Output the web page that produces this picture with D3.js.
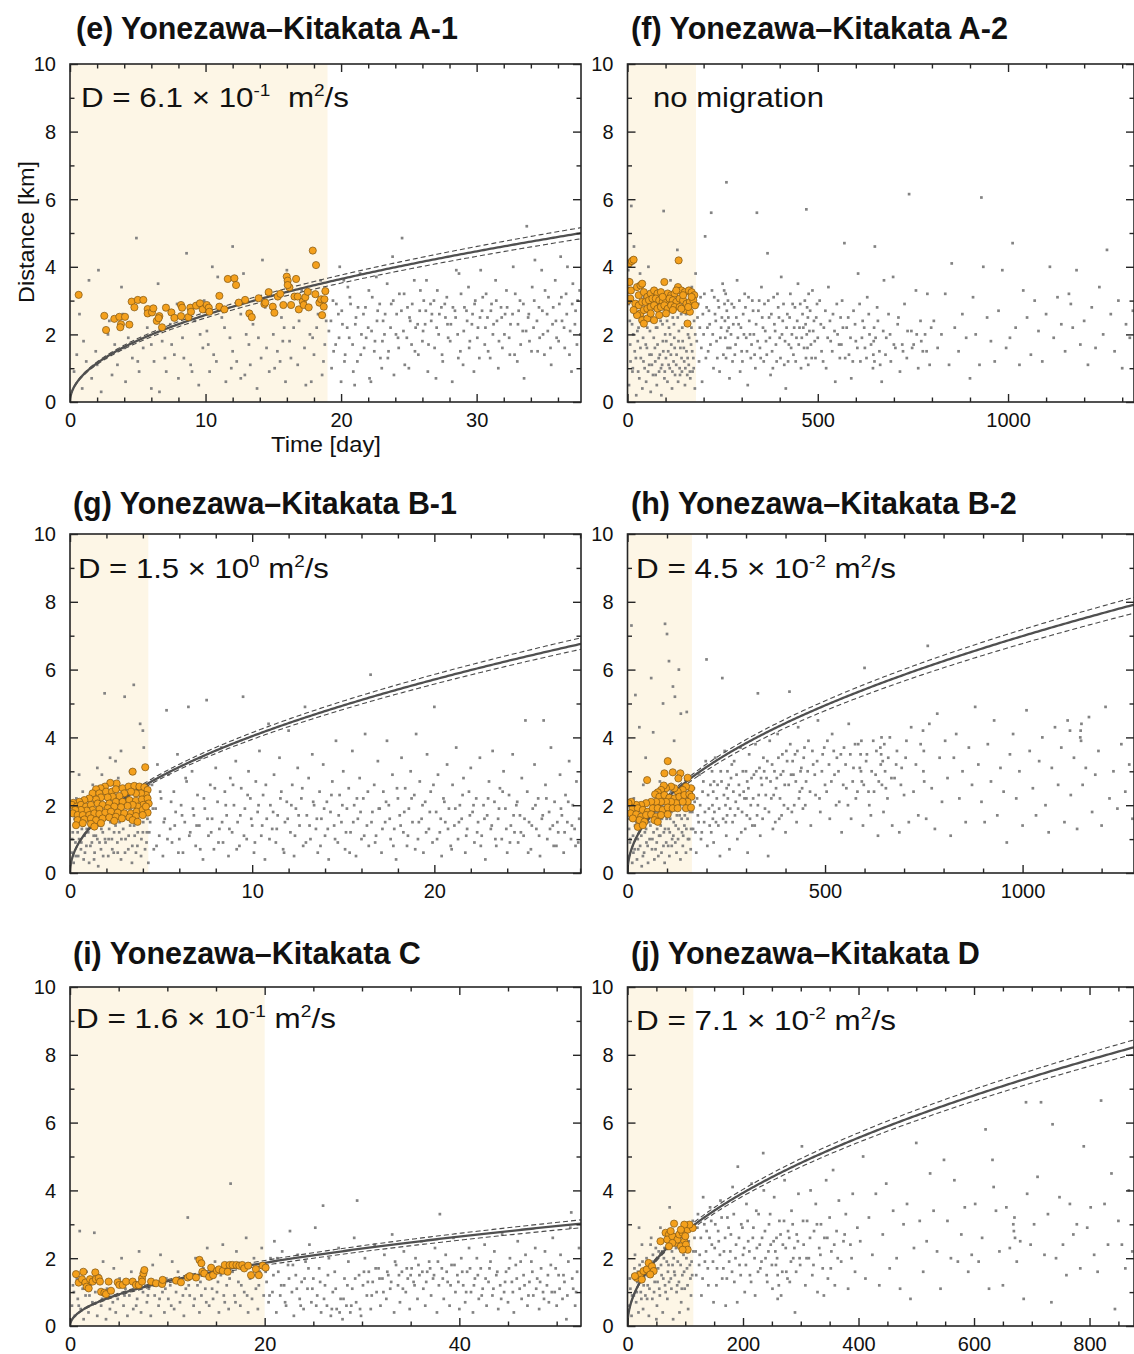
<!DOCTYPE html>
<html>
<head>
<meta charset="utf-8">
<script src="https://cdn.jsdelivr.net/npm/d3@7"></script>
<style>
  body { margin: 0; background: #fff; }
  svg { display: block; }
  text { font-family: "Liberation Sans", Arial, Helvetica, sans-serif; fill: #111; }
</style>
</head>
<body>
<svg id="chart" width="1134" height="1354"></svg>
<script>
// ---------- panel metadata ----------
const panelTitles = [
  "(e) Yonezawa–Kitakata A-1", "(f) Yonezawa–Kitakata A-2",
  "(g) Yonezawa–Kitakata B-1", "(h) Yonezawa–Kitakata B-2",
  "(i) Yonezawa–Kitakata C",   "(j) Yonezawa–Kitakata D"
];
// annotation pieces: [text, isSuperscript]
const annotations = [
  [["D = 6.1 × 10", 0], ["-1", 1], ["  m", 0], ["2", 1], ["/s", 0]],
  [["no migration", 0]],
  [["D = 1.5 × 10", 0], ["0", 1], [" m", 0], ["2", 1], ["/s", 0]],
  [["D = 4.5 × 10", 0], ["-2", 1], [" m", 0], ["2", 1], ["/s", 0]],
  [["D = 1.6 × 10", 0], ["-1", 1], [" m", 0], ["2", 1], ["/s", 0]],
  [["D = 7.1 × 10", 0], ["-2", 1], [" m", 0], ["2", 1], ["/s", 0]]
];
const xMax = [37.7, 1331, 28.05, 1282, 52.5, 877];
const xMajorTicks = [[0, 10, 20, 30], [0, 500, 1000], [0, 10, 20], [0, 500, 1000], [0, 20, 40], [0, 200, 400, 600, 800]];
const xMinorStep = [2, 100, 2, 100, 5, 50];
const yMajorTicks = [0, 2, 4, 6, 8, 10];
const yMinorStep = 1;
const shadeEnd = [19, 180, 4.3, 163, 20, 114];           // end of the migration window (days)
const diffusivity     = [0.61, null, 1.5,  0.045,  0.16,   0.071];  // m^2/s
const diffusivityLow  = [0.57, null, 1.43, 0.0422, 0.1475, 0.0676];
const diffusivityHigh = [0.65, null, 1.58, 0.0475, 0.172,  0.0748];
const yLabel = "Distance [km]";
const xLabel = "Time [day]";

// ---------- events: [time (day), distance (km)] ----------
const grayE = [
[0.3,0.9],[0.5,1.4],[0.7,2.6],[0.9,0.4],[1.0,1.8],[1.2,1.2],[1.4,3.6],[1.6,0.7],[1.9,1.5],[2.1,3.9],[2.3,0.3],[2.6,1.3],[2.8,2.0],[2.9,2.4],[3.1,0.8],[3.3,1.7],[3.5,1.1],[3.8,3.4],[3.9,2.6],[4.1,0.6],[4.3,1.9],[4.6,1.3],[4.9,4.85],[5.1,0.9],[5.4,1.6],[5.7,2.2],[5.9,2.7],[6.0,0.4],[6.2,1.2],[6.5,3.5],[6.6,0.3],[6.8,1.8],[7.1,0.9],[7.4,2.3],[7.7,1.4],[7.9,2.9],[8.0,0.7],[8.3,1.9],[8.6,4.4],[8.8,2.5],[8.9,1.1],[9.2,2.4],[9.5,0.5],[9.8,1.6],[9.9,3.0],[10.1,2.1],[10.3,0.9],[10.5,4.0],[10.6,1.4],[10.9,3.7],[11.2,2.5],[11.5,0.6],[11.8,1.9],[11.9,1.0],[12.0,4.6],[12.3,1.2],[12.6,2.6],[12.8,3.8],[12.9,0.8],[13.0,2.0],[13.2,1.7],[13.5,2.3],[13.8,0.4],[13.9,3.1],[14.1,1.3],[14.2,4.2],[14.4,2.8],[14.7,0.9],[15.0,2.0],[15.3,1.5],[15.5,1.2],[15.6,2.5],[15.8,2.2],[15.9,0.6],[16.0,3.9],[16.2,1.8],[16.5,2.2],[16.8,1.1],[17.1,3.3],[17.4,0.5],[17.5,2.8],[17.7,2.0],[17.9,1.9],[18.0,1.4],[18.3,2.6],[18.5,3.6],[18.6,0.8],[18.8,1.7],
[19.1,2.1],[19.3,1.0],[19.4,3.0],[19.6,1.7],[19.8,2.6],[19.9,4.0],[20.0,0.6],[20.1,2.3],[20.2,3.6],[20.3,1.4],[20.5,3.4],[20.6,1.9],[20.7,2.9],[20.9,0.9],[21.0,0.5],[21.1,2.5],[21.2,1.2],[21.4,3.8],[21.5,2.0],[21.7,1.6],[21.8,2.8],[22.0,2.2],[22.1,0.7],[22.2,0.6],[22.3,3.1],[22.5,1.8],[22.6,3.7],[22.7,2.7],[22.9,1.3],[23.0,1.0],[23.1,2.4],[23.2,2.0],[23.4,3.5],[23.5,1.5],[23.7,2.9],[23.8,4.3],[23.9,0.8],[24.1,2.6],[24.2,1.9],[24.3,3.2],[24.5,4.85],[24.6,2.1],[24.7,1.1],[24.9,2.8],[25.0,1.0],[25.1,2.4],[25.2,1.7],[25.4,3.6],[25.5,2.2],[25.7,1.4],[25.8,2.7],[26.0,1.8],[26.1,3.0],[26.2,2.3],[26.3,3.6],[26.4,0.9],[26.6,2.9],[26.7,2.6],[26.9,1.6],[27.0,0.7],[27.1,3.3],[27.2,2.0],[27.4,2.8],[27.5,1.2],[27.7,2.5],[27.8,3.1],[27.9,1.9],[28.1,2.3],[28.2,0.6],[28.4,2.7],[28.5,3.9],[28.6,2.0],[28.7,3.8],[28.8,1.5],[29.0,1.1],[29.1,2.8],[29.3,2.4],[29.4,3.4],[29.5,1.8],[29.7,2.6],[29.8,0.9],[29.9,3.0],[30.1,2.2],[30.2,1.3],[30.3,3.9],[30.4,2.7],[30.6,1.7],[30.7,3.2],[30.8,2.5],[31.0,1.3],[31.1,2.9],[31.2,2.0],[31.4,3.6],[31.5,2.4],[31.6,1.0],[31.8,2.8],[31.9,1.6],[32.1,2.6],[32.2,3.3],[32.4,1.9],[32.5,2.3],[32.7,4.0],[32.8,1.4],[33.0,1.2],[33.1,2.7],[33.2,3.0],[33.4,2.1],[33.5,0.7],[33.7,5.2],[33.8,2.5],[33.9,1.8],[34.1,3.4],[34.2,2.2],[34.3,4.2],[34.5,1.5],[34.6,2.8],[34.8,3.9],[34.9,2.0],[35.0,1.4],[35.2,2.6],[35.3,3.1],[35.5,1.1],[35.6,2.3],[35.8,3.6],[35.9,1.9],[36.1,2.9],[36.2,4.3],[36.3,2.4],[36.5,1.6],[36.6,3.2],[36.7,4.0],[36.9,2.1],[37.0,0.9],[37.1,3.5],[37.3,2.7],[37.4,1.7],[37.6,3.3]
];
// denser core of the cloud
const grayECore = [
[2.0,1.1],[3.0,1.4],[4.0,1.6],[5.0,1.2],[6.0,1.7],[7.0,1.3],[7.5,1.7],[8.4,1.3],[9.0,0.9],[9.6,2.0],[10.2,1.7],[10.8,1.2],[11.4,2.2],[12.0,1.5],[12.6,0.7],[13.3,1.1],[13.9,1.9],[14.5,1.6],[15.1,1.0],[15.7,1.8],[16.3,1.3],[16.9,2.4],[17.3,1.6],[17.8,0.6],[18.2,2.2],[18.7,1.2],[18.9,2.4],
[19.25,2.4],[19.45,1.5],[19.65,2.9],[19.85,1.9],[20.05,2.7],[20.25,1.2],[20.45,2.2],[20.65,3.1],[20.85,1.7],[21.05,2.3],[21.25,2.8],[21.45,1.4],[21.65,2.6],[21.85,1.9],[22.05,3.3],[22.25,2.1],[22.45,1.5],[22.65,2.4],[22.85,2.9],[23.05,1.8],[23.25,2.6],[23.45,1.3],[23.65,2.2],[23.85,3.0],[24.05,2.0],[24.25,1.6],[24.45,2.7],[24.65,3.2],[24.85,1.9],[25.05,2.5],[25.25,2.9],[25.45,1.5],[25.65,2.3],[25.85,3.3],[26.05,2.1],[26.25,2.7],[26.45,1.7],[26.65,2.4],[26.85,3.0],[27.05,2.2],[27.25,2.6],[27.45,1.4],[27.65,2.9],[27.85,2.3],[28.05,1.8],[28.25,2.8],[28.45,2.5],[28.65,1.3],[28.85,3.2],[29.05,2.1],[29.25,2.7],[29.45,1.6],[29.65,2.3],[29.85,2.9],[30.05,1.9],[30.25,2.5],[30.45,3.1],[30.65,2.2],[30.85,1.5],[31.05,2.7],[31.25,2.3],[31.45,3.0],[31.65,1.8],[31.85,2.5],[32.05,2.0],[32.25,2.8],[32.45,1.4],[32.65,2.6],[32.85,3.2],[33.05,2.3],[33.25,1.7],[33.45,2.9],[33.65,2.1],[33.85,2.6],[34.05,1.5],[34.25,3.0],[34.45,2.4],[34.65,1.9],[34.85,2.7],[35.05,3.3],[35.25,2.1],[35.45,1.6],[35.65,2.8],[35.85,2.4],[36.05,1.8],[36.25,3.1],[36.45,2.2],[36.65,2.6],[36.85,1.4],[37.05,2.9],[37.25,2.3],[37.45,3.0],[37.65,2.0]
];
const orangeE = [
[0.64,3.17],[2.53,2.55],[2.66,2.13],[3.27,2.46],[3.64,2.52],[3.76,2.30],[3.71,2.21],[4.06,2.52],[4.38,2.29],[4.55,2.97],[4.75,2.80],[5.0,3.02],[5.41,3.02],[5.73,2.75],[5.73,2.62],[6.05,2.65],[6.15,2.77],[6.4,2.40],[6.59,2.54],[6.54,2.48],[6.79,2.21],[7.08,2.79],[7.48,2.65],[7.7,2.49],[8.19,2.87],[8.27,2.79],[8.19,2.54],[8.73,2.51],[8.88,2.79],[8.93,2.67],[9.3,2.85],[9.59,2.92],[9.79,2.74],[10.09,2.87],[10.24,2.79],[10.28,2.67],[11.02,3.14],[11.02,2.82],[11.39,2.74],[11.64,3.64],[12.13,3.66],[12.25,3.46],[12.45,2.94],[12.92,3.02],[13.23,2.62],[13.41,2.51],[13.92,3.07],[14.34,2.9],[14.41,2.94],[14.66,3.25],[14.96,2.82],[15.08,2.64],[15.33,3.12],[15.52,3.2],[15.74,2.87],[15.99,3.71],[16.06,3.59],[16.19,3.39],[16.06,3.46],[16.31,2.87],[16.56,3.12],[16.68,3.64],[16.8,3.12],[16.88,2.74],[17.17,2.97],[17.24,2.87],[17.36,3.1],[17.54,3.26],[17.61,2.8],[17.91,4.48],[18.15,4.05],[18.1,3.19],[18.4,2.94],[18.52,3.04],[18.6,2.57],[18.72,2.82],[18.84,3.28],[18.77,3.04]
];

const grayF = [
[2,3.9],[4,0.5],[6,2.4],[8,1.2],[10,5.8],[11,3.0],[13,0.9],[15,2.0],[17,4.6],[19,1.5],[21,2.7],[23,0.2],[25,3.4],[27,1.8],[29,2.2],[31,0.7],[33,3.8],[35,1.3],[37,2.5],[39,0.4],[41,1.9],[43,3.1],[45,1.0],[47,2.3],[49,0.6],[51,1.6],[53,2.8],[55,4.0],[57,1.1],[59,2.1],[61,0.3],[63,1.4],[65,2.6],[67,0.8],[69,1.9],[71,3.3],[73,1.2],[75,2.2],[77,0.5],[79,1.7],[81,2.9],[83,0.9],[85,1.4],[87,2.4],[89,0.2],[91,1.1],[93,1.8],[95,5.65],[97,0.7],[99,2.0],[101,1.3],[103,2.7],[105,0.6],[107,1.5],[109,2.2],[111,1.0],[113,3.6],[115,1.7],[117,0.4],[119,2.5],[121,1.2],[123,1.9],[125,0.8],[127,2.8],[129,1.4],[131,4.5],[133,0.6],[135,2.1],[137,1.0],[139,1.6],[141,2.6],[143,0.9],[145,1.8],[147,3.0],[149,1.2],[151,0.5],[153,2.3],[155,1.5],[157,0.8],[159,2.0],[161,1.1],[163,2.7],[165,0.7],[167,1.7],[169,3.4],[171,0.9],[173,1.3],[175,2.4],[177,0.4],[179,3.8],
[184,2.5],[188,1.2],[192,3.1],[196,0.6],[200,2.0],[204,4.9],[208,2.8],[212,1.5],[216,2.3],[220,5.6],[222,3.3],[226,1.0],[230,2.6],[234,1.8],[238,3.0],[242,0.9],[246,2.2],[250,3.5],[252,1.4],[255,2.9],[256,2.4],[257,1.9],[258,3.2],[259,1.3],[260,6.5],[261,2.7],[262,2.1],[263,1.6],[264,3.0],[265,2.5],[268,0.7],[272,2.0],[276,1.2],[280,2.8],[284,1.7],[288,3.6],[292,2.3],[296,0.9],[300,1.5],[304,2.6],[308,3.2],[312,1.9],[316,0.5],[320,2.4],[324,1.3],[328,3.0],[332,2.0],[336,1.0],[340,5.6],[344,2.7],[348,1.6],[352,3.4],[356,2.2],[358,1.2],[360,2.9],[364,1.8],[368,4.4],[372,2.5],[376,0.8],[380,1.5],[384,3.1],[388,2.1],[392,1.2],[396,2.8],[400,1.9],[404,3.7],[408,2.4],[412,1.1],[416,0.4],[420,2.6],[424,1.7],[428,3.2],[432,2.0],[436,1.4],[440,2.8],[444,1.9],[448,3.5],[452,2.2],[456,1.0],[460,2.6],[464,1.6],[466,3.0],[468,2.3],[469,1.3],[470,5.7],[471,2.0],[472,2.8],[473,1.6],[474,2.5],[475,1.1],[476,3.2],[478,2.1],[482,1.7],[486,3.3],[490,2.4],[494,1.3],[498,2.9],[500,1.9],
[505,3.0],[510,1.5],[516,2.2],[522,1.0],[528,3.4],[534,1.8],[540,2.6],[546,0.6],[552,2.0],[558,1.3],[560,2.5],[562,1.7],[564,3.0],[570,4.7],[576,2.2],[582,1.4],[588,0.7],[594,2.7],[600,1.8],[606,3.8],[612,1.2],[618,2.4],[624,1.6],[630,3.1],[636,2.0],[645,1.0],[646,1.4],[647,1.8],[648,2.2],[649,1.2],[650,4.6],[656,2.8],[662,1.5],[668,0.6],[674,3.6],[680,1.9],[686,2.6],[692,1.2],[698,3.7],[704,1.6],[710,2.3],[716,0.9],[722,1.7],[728,2.9],[734,1.3],[740,6.15],[746,2.1],[752,1.7],[758,3.3],[764,1.0],[770,2.4],[776,1.5],[782,2.0],[788,3.2],[794,1.1],
[805,2.4],[815,1.6],[825,2.0],[835,3.2],[845,1.1],[852,4.1],[860,2.2],[870,1.5],[880,2.6],[890,1.9],[900,0.7],[908,3.1],[915,2.0],[925,1.1],[930,6.05],[935,4.0],[945,2.5],[955,1.8],[965,1.2],[975,2.7],[985,3.9],[995,1.6],[1005,1.9],[1012,4.7],[1020,2.2],[1030,1.1],[1040,3.3],[1050,2.5],[1060,1.4],[1070,3.0],[1080,2.1],[1090,1.2],[1100,2.6],[1110,4.0],[1120,1.9],[1130,3.1],[1140,2.3],[1150,1.5],[1160,3.2],[1165,2.9],[1170,2.2],[1180,3.9],[1190,1.7],[1200,2.4],[1210,1.1],[1220,2.8],[1230,1.6],[1240,3.4],[1250,2.0],[1260,4.5],[1270,2.6],[1280,1.5],[1290,3.0],[1300,1.0],[1310,2.3],[1320,1.9],[1328,2.7]
];
const grayFCore = [
[3,2.9],[7,1.7],[12,2.3],[14,1.0],[18,2.6],[22,1.3],[26,2.1],[28,0.9],[32,2.6],[34,1.6],[38,3.0],[42,1.2],[44,2.5],[48,1.7],[52,2.2],[54,0.9],[58,1.4],[62,2.4],[64,1.1],[68,2.9],[72,1.6],[74,0.8],[78,2.2],[82,1.3],[86,2.6],[88,1.0],[92,2.3],[94,1.5],[98,0.9],[102,1.8],[104,2.4],[108,1.1],[112,2.0],[114,1.4],[118,0.9],[122,2.3],[124,1.6],[128,1.1],[132,2.5],[134,1.8],[138,0.8],[142,1.3],[144,2.2],[148,1.6],[152,1.0],[154,2.6],[158,1.3],[162,1.9],[164,0.9],[168,2.2],[170,1.5],[174,1.0],[178,2.0],
[182,1.8],[186,2.9],[190,2.2],[194,1.6],[198,2.6],[202,3.2],[206,1.3],[210,2.2],[214,2.7],[218,1.7],[224,2.0],[228,3.1],[232,2.4],[236,1.3],[240,2.8],[244,1.9],[248,2.5],[254,3.3],[266,2.2],[270,1.6],[274,2.9],[278,2.3],[282,1.4],[286,2.5],[290,1.9],[294,3.0],[298,2.2],[302,1.2],[306,2.0],[310,2.8],[314,1.5],[318,3.1],[322,2.0],[326,1.7],[330,2.7],[334,1.4],[338,2.3],[342,1.8],[346,3.0],[350,1.3],[354,2.5],[362,2.1],[366,1.4],[370,3.0],[374,1.9],[378,2.6],[382,1.0],[386,2.3],[390,1.7],[394,3.2],[398,2.5],[402,1.3],[406,2.0],[410,2.9],[414,1.8],[418,2.2],[422,1.2],[426,2.5],[430,1.6],[434,2.9],[438,2.2],[442,1.2],[446,2.4],[450,1.7],[454,2.9],[458,1.9],[462,2.2],[480,2.7],[484,1.3],[488,2.1],[492,1.8],[496,2.5],
[508,2.3],[514,1.2],[520,2.7],[526,1.9],[532,2.4],[538,1.5],[544,2.1],[550,2.9],[556,1.7],[566,2.2],[572,1.3],[580,2.5],[586,1.9],[592,1.2],[598,2.3],[604,1.6],[610,2.9],[616,1.9],[622,2.2],[628,1.3],[634,2.6],[640,1.7],[652,1.9],[658,2.4],[664,1.1],[672,2.1],[678,1.4],[690,2.0],[700,1.7],[712,2.5],[724,1.5],[736,2.1],[748,1.6],[760,2.0],[772,1.8],[786,1.5],[798,2.2]
];
const orangeF = [
[1,3.0],[2,3.3],[3,3.55],[4,4.1],[11.6,4.17],[16.1,4.21],[5.4,3.55],[9,3.30],[7.2,3.06],[25.1,3.40],[34.1,3.45],[38.5,3.50],[29.6,3.16],[43,3.25],[52,3.11],[60.9,3.21],[69.9,3.30],[78.9,3.21],[87.8,3.25],[96.8,3.55],[105.7,3.21],[114.7,3.16],[123.7,3.21],[132.6,3.40],[134.4,4.19],[141.6,3.30],[150.5,3.25],[161.3,3.30],[168.5,3.25],[175.6,3.16],
[20.6,2.91],[29.6,2.86],[38.5,2.96],[47.5,2.96],[56.5,3.01],[65.4,3.06],[74.4,3.06],[83.3,3.01],[92.3,2.96],[101.3,3.01],[110.2,3.06],[119.2,3.01],[128.1,2.96],[137.1,3.06],[146.1,3.01],[155,2.91],[164,2.96],[172.9,3.01],
[34.1,2.62],[43,2.72],[52,2.76],[60.9,2.81],[69.9,2.86],[78.9,2.76],[87.8,2.81],[96.8,2.86],[105.7,2.76],[114.7,2.86],[123.7,2.81],[137.1,2.81],[150.5,2.72],[164,2.67],[177.4,2.86],
[25.1,2.57],[38.5,2.42],[52,2.47],[69.9,2.42],[83.3,2.57],[101.3,2.62],[119.2,2.72],[141.6,2.76],[159.5,2.81],[43,2.32],[157.7,2.32],[60.9,2.62],[16.1,2.72],[92.3,3.11],[128.1,3.30],[146.1,3.16],[168.5,3.11]
];

const grayG = [
[0.1,0.6],[0.15,1.2],[0.2,0.3],[0.25,1.6],[0.3,0.9],[0.35,2.2],[0.4,1.4],[0.45,0.5],[0.5,1.0],[0.5,2.9],[0.55,1.8],[0.6,0.7],[0.65,1.3],[0.7,2.4],[0.75,0.4],[0.8,1.1],[0.85,1.6],[0.9,0.8],[0.95,2.0],[1.0,1.2],[1.05,0.3],[1.1,1.5],[1.2,0.9],[1.25,2.6],[1.3,1.1],[1.35,0.6],[1.4,1.7],[1.5,1.0],[1.5,3.1],[1.55,0.2],[1.6,1.4],[1.7,0.7],[1.75,2.9],[1.8,1.2],[1.9,5.3],[1.95,0.9],[2.0,1.6],[2.1,0.5],[2.15,1.3],[2.2,3.4],[2.3,1.0],[2.35,1.9],[2.4,0.6],[2.5,1.4],[2.5,3.3],[2.6,0.9],[2.65,2.8],[2.7,1.2],[2.8,0.4],[2.8,3.6],[2.9,1.7],[3.0,5.2],[3.05,1.0],[3.1,2.2],[3.2,0.7],[3.3,1.4],[3.3,3.0],[3.4,0.3],[3.5,5.55],[3.55,1.1],[3.6,1.9],[3.7,0.8],[3.8,1.5],[3.85,4.4],[3.9,0.5],[4.0,1.2],[4.0,4.2],[4.05,3.7],[4.1,2.0],[4.2,0.9],[4.25,1.6],[4.3,0.3],
[4.4,1.5],[4.5,2.6],[4.6,0.7],[4.7,1.9],[4.8,3.2],[4.9,1.1],[5.0,2.2],[5.1,0.5],[5.2,1.6],[5.3,4.8],[5.4,2.9],[5.5,1.3],[5.6,0.9],[5.7,2.4],[5.8,1.8],[5.9,3.5],[6.0,1.0],[6.1,2.0],[6.2,0.6],[6.3,1.5],[6.4,2.7],[6.5,4.9],[6.6,1.2],[6.7,3.0],[6.8,1.7],[6.9,0.8],[7.0,2.3],[7.1,1.4],[7.2,3.4],[7.3,0.4],[7.4,1.9],[7.5,5.1],[7.6,1.1],[7.7,2.6],[7.8,1.6],[7.9,0.7],[8.0,3.1],[8.1,2.1],[8.2,1.3],[8.3,3.7],[8.4,0.9],[8.5,2.4],[8.6,1.7],[8.7,0.5],[8.8,2.8],[8.9,1.2],[9.0,2.0],[9.1,3.3],[9.2,1.5],[9.3,0.8],[9.4,2.5],[9.5,5.2],[9.6,1.9],[9.7,1.0],[9.8,3.0],[9.9,2.2],[10.0,1.4],[10.1,0.6],[10.2,2.7],[10.3,1.8],[10.4,3.6],[10.5,1.1],[10.6,2.3],[10.7,0.4],[10.8,1.6],[10.9,4.4],[11.0,2.0],[11.1,1.3],[11.2,2.9],[11.3,0.9],[11.4,1.7],[11.5,3.4],[11.6,2.4],[11.7,0.7],[11.8,1.5],[11.9,2.1],[12.0,4.2],[12.1,1.2],[12.2,2.6],[12.3,0.5],[12.4,1.9],[12.5,3.1],[12.6,1.4],[12.7,2.2],[12.8,0.8],[12.9,4.9],[13.0,1.7],[13.1,2.8],[13.2,1.0],[13.3,3.5],[13.4,2.0],[13.5,1.3],[13.6,0.6],[13.7,2.4],[13.8,1.6],[13.9,3.2],[14.0,1.1],[14.1,2.1],[14.2,0.4],[14.3,1.8],[14.4,2.7],[14.5,1.4],[14.6,3.9],[14.7,0.9],[14.8,2.3],[14.9,1.5],[15.0,3.0],[15.1,0.7],[15.2,1.9],[15.3,2.5],[15.4,1.2],[15.5,3.6],[15.6,2.0],[15.7,0.5],[15.8,1.6],[15.9,2.8],[16.0,1.0],[16.1,2.2],[16.2,4.1],[16.3,1.4],[16.4,0.8],[16.5,5.85],[16.6,1.8],[16.7,2.6],[16.8,1.1],[16.9,3.3],[17.0,1.9],[17.1,0.6],[17.2,2.4],[17.3,1.5],[17.4,3.9],[17.5,2.0],[17.6,1.0],[17.7,2.9],[17.8,1.3],[17.9,0.4],[18.0,2.2],[18.1,1.7],[18.2,3.4],[18.3,1.2],[18.4,2.5],[18.5,0.8],[18.6,1.9],[18.7,3.0],[18.8,1.5],[18.9,2.3],[19.0,4.1],[19.1,1.0],[19.2,2.7],[19.3,1.6],[19.4,0.6],[19.5,2.1],[19.6,3.5],[19.7,1.3],[19.8,2.4],[19.9,0.9],[20.0,4.9],[20.1,1.8],[20.2,2.9],[20.3,1.2],[20.4,0.5],[20.5,2.2],[20.6,1.5],[20.7,3.2],[20.8,1.9],[20.9,0.8],[21.0,2.6],[21.1,1.4],[21.2,3.7],[21.3,1.0],[21.4,2.0],[21.5,1.6],[21.6,2.8],[21.7,0.6],[21.8,1.3],[21.9,2.4],[22.0,3.1],[22.1,1.8],[22.2,0.9],[22.3,2.2],[22.4,1.5],[22.5,3.4],[22.6,1.1],[22.7,2.0],[22.8,0.4],[22.9,1.7],[23.0,2.7],[23.1,1.3],[23.2,3.6],[23.3,2.1],[23.4,0.8],[23.5,1.6],[23.6,2.5],[23.7,1.0],[23.8,3.0],[23.9,1.9],[24.0,0.6],[24.1,2.3],[24.2,1.4],[24.3,3.5],[24.4,1.2],[24.5,2.0],[24.6,0.9],[24.7,1.7],[24.8,2.8],[24.9,1.1],[25.0,4.5],[25.1,2.4],[25.2,1.5],[25.3,0.7],[25.4,1.9],[25.5,3.2],[25.6,1.3],[25.7,2.2],[25.8,0.5],[25.9,1.6],[26.0,4.5],[26.1,2.6],[26.2,1.0],[26.3,1.8],[26.4,3.7],[26.5,1.4],[26.6,2.1],[26.7,0.8],[26.8,1.2],[26.9,2.9],[27.0,1.7],[27.1,0.6],[27.2,2.3],[27.3,1.5],[27.4,3.3],[27.5,1.0],[27.6,2.0],[27.7,1.3],[27.8,2.7],[27.9,0.9]
];
const grayGCore = [
[0.12,1.0],[0.22,1.8],[0.32,0.5],[0.42,1.2],[0.52,1.6],[0.62,0.9],[0.72,1.4],[0.82,0.6],[0.92,1.3],[1.02,1.7],[1.12,0.8],[1.22,1.4],[1.32,0.4],[1.42,1.1],[1.52,1.9],[1.62,0.9],[1.72,1.3],[1.82,0.5],[1.92,1.0],[2.02,1.9],[2.12,1.0],[2.22,1.5],[2.32,0.7],[2.42,1.2],[2.52,1.8],[2.62,0.6],[2.72,1.5],[2.82,1.0],[2.92,1.3],[3.02,0.6],[3.12,1.6],[3.22,1.1],[3.32,1.9],[3.42,0.8],[3.52,1.4],[3.62,0.6],[3.72,1.2],[3.82,1.8],[3.92,1.0],[4.02,1.5],[4.12,0.7],[4.22,1.2],
[4.35,1.2],[4.55,1.9],[4.75,0.8],[4.95,2.4],[5.15,1.5],[5.35,1.0],[5.55,2.1],[5.75,1.4],[5.95,0.6],[6.15,1.7],[6.35,2.8],[6.55,1.1],[6.75,1.9],[6.95,1.4],[7.15,0.7],[7.35,2.2],[7.55,1.6],[7.75,1.2],[7.95,2.5],[8.15,0.9],[8.35,1.5],[8.55,2.0],[8.75,1.3],[8.95,2.6],[9.15,0.7],[9.35,1.7],[9.55,1.1],[9.75,2.3],[9.95,1.6],[10.15,0.9],[10.35,2.0],[10.55,1.4],[10.75,2.6],[10.95,1.0],[11.15,1.8],[11.35,1.3],[11.55,2.2],[11.75,0.6],[11.95,1.6],[12.15,2.0],[12.35,1.1],[12.55,1.7],[12.75,2.5],[12.95,0.9],[13.15,1.4],[13.35,2.1],[13.55,1.6],[13.75,0.8],[13.95,1.9],[14.15,1.3],[14.35,2.3],[14.55,1.0],[14.75,1.7],[14.95,2.0],[15.15,1.2],[15.35,0.6],[15.55,1.5],[15.75,2.2],[15.95,1.8],[16.15,1.1],[16.35,2.4],[16.55,1.5],[16.75,0.9],[16.95,1.9],[17.15,1.3],[17.35,2.1],[17.55,1.6],[17.75,0.8],[17.95,2.5],[18.15,1.4],[18.35,1.8],[18.55,1.1],[18.75,2.2],[18.95,0.7],[19.15,1.5],[19.35,2.0],[19.55,1.2],[19.75,1.8],[19.95,2.6],[20.15,1.0],[20.35,1.6],[20.55,2.1],[20.75,1.3],[20.95,0.7],[21.15,1.9],[21.35,1.5],[21.55,2.3],[21.75,1.1],[21.95,1.7],[22.15,2.0],[22.35,1.2],[22.55,0.8],[22.75,1.6],[22.95,2.2],[23.15,1.4],[23.35,1.0],[23.55,1.9],[23.75,2.4],[23.95,1.3],[24.15,0.9],[24.35,1.7],[24.55,2.1],[24.75,1.2],[24.95,1.6],[25.15,0.6],[25.35,1.4],[25.55,2.0],[25.75,1.1],[25.95,1.7],[26.15,2.2],[26.35,1.3],[26.55,0.8],[26.75,1.5],[26.95,1.9],[27.15,1.2],[27.35,2.1],[27.55,1.4],[27.75,0.8],[27.95,1.6]
];
const orangeG = [
[4.13,3.12],[3.44,2.99],[2.56,2.64],[2.21,2.66],[1.92,2.55],[1.68,2.50],[1.43,2.47],[1.24,2.35],[1.61,2.35],[1.98,2.40],[2.31,2.40],[2.52,2.47],[2.89,2.50],[3.22,2.55],[3.53,2.57],[3.81,2.55],[4.08,2.53],[4.26,2.45],[4.17,2.30],[3.9,2.35],[3.62,2.35],[3.35,2.40],[2.98,2.35],[2.71,2.27],[2.34,2.25],[2.07,2.23],[1.70,2.23],[1.43,2.17],[1.06,2.20],[0.79,2.15],[0.51,2.10],[0.18,2.07],[0.11,2.01],[0.37,1.96],[0.60,2.01],[0.88,1.96],[1.15,2.01],[1.52,2.05],[1.79,2.01],[2.16,2.05],[2.52,2.10],[2.89,2.10],[3.26,2.15],[3.62,2.13],[3.95,2.17],[4.26,2.20],[4.32,2.05],[4.02,2.01],[3.71,1.96],[3.44,2.01],[3.16,1.98],[2.80,1.94],[2.43,1.96],[2.07,1.91],[1.61,1.88],[1.24,1.86],[0.92,1.84],[0.60,1.86],[0.29,1.86],[0.15,1.76],[0.42,1.71],[0.70,1.71],[1.06,1.71],[1.34,1.76],[1.61,1.74],[1.94,1.78],[2.25,1.81],[2.62,1.78],[2.98,1.76],[3.35,1.76],[3.66,1.81],[3.99,1.86],[4.26,1.78],[0.42,1.56],[0.79,1.58],[1.15,1.61],[1.43,1.56],[1.79,1.61],[2.16,1.64],[2.52,1.66],[2.85,1.61],[3.26,1.64],[3.62,1.68],[3.99,1.71],[4.17,1.96],[0.70,1.47],[1.15,1.45],[1.70,1.47],[2.43,1.54],[3.44,1.56],[0.33,1.41],[1.34,1.37],[3.71,1.51]
];

const grayH = [
[2,0.5],[4,1.3],[6,0.9],[8,1.8],[10,7.3],[12,0.3],[14,1.1],[16,2.2],[18,0.7],[20,5.25],[22,1.5],[24,0.4],[26,1.0],[28,2.0],[30,4.3],[32,0.8],[34,1.4],[36,0.2],[38,1.7],[40,2.6],[42,0.6],[44,1.2],[46,3.4],[48,0.9],[50,1.6],[52,0.3],[54,2.1],[56,1.0],[58,1.4],[60,5.75],[62,0.7],[64,1.9],[65,4.15],[66,1.2],[68,0.4],[70,2.3],[72,1.5],[74,0.9],[76,1.8],[78,0.5],[80,1.1],[82,2.7],[84,1.4],[86,0.6],[88,2.0],[90,5.0],[92,1.2],[94,0.3],[95,7.35],[96,1.7],[98,0.9],[100,7.05],[102,2.1],[104,1.3],[105,6.25],[106,0.5],[108,1.6],[110,2.4],[112,0.8],[114,1.9],[115,5.5],[116,1.1],[118,3.9],[120,5.2],[122,1.4],[124,0.6],[126,2.2],[128,1.0],[130,6.0],[132,1.7],[134,0.4],[135,4.7],[136,2.5],[138,1.2],[140,0.8],[142,1.9],[144,1.4],[146,2.8],[148,0.6],[150,4.75],[152,1.6],[154,2.2],[156,1.0],[158,1.8],[160,0.7],[162,2.4],
[166,1.3],[170,2.1],[174,0.6],[178,1.7],[182,2.9],[186,1.0],[190,2.4],[194,1.5],[198,3.3],[200,6.3],[202,0.8],[206,1.9],[210,2.6],[212,1.2],[214,3.0],[215,2.0],[216,1.6],[217,2.4],[218,0.9],[220,1.8],[222,3.4],[226,2.2],[230,1.4],[234,0.5],[238,2.7],[240,5.75],[242,1.6],[246,3.6],[248,2.0],[250,1.1],[251,2.5],[252,1.7],[253,3.0],[254,2.2],[258,0.7],[262,2.8],[266,1.5],[270,3.3],[274,2.1],[278,1.0],[282,2.6],[286,3.7],[290,1.8],[294,2.4],[298,1.3],[300,3.0],[301,2.2],[302,1.7],[303,2.7],[304,0.6],[308,3.5],[312,2.0],[316,1.4],[320,2.9],[324,3.8],[328,1.7],[330,5.3],[332,2.3],[334,3.1],[336,1.1],[340,2.6],[344,3.4],[348,1.9],[352,2.8],[356,0.5],[360,3.9],[364,2.2],[368,1.3],[372,3.0],[376,2.5],[380,4.1],[384,1.6],[388,2.9],[392,3.5],[396,2.0],[400,1.2],[404,3.3],[408,2.6],[410,5.35],[412,3.8],[416,1.8],[420,2.9],[424,3.5],[428,1.5],[432,4.3],[436,2.4],[440,3.1],[444,1.9],[448,3.7],
[452,2.7],[458,3.9],[464,1.4],[470,3.2],[476,2.3],[482,4.5],[488,1.8],[494,3.5],[500,2.6],[506,3.9],[512,1.6],[518,4.1],[524,2.9],[530,3.4],[536,2.1],[542,1.2],[548,3.7],[554,2.5],[560,4.4],[566,1.6],[572,3.1],[578,2.2],[584,3.8],[590,3.5],[591,3.0],[592,3.9],[593,2.7],[596,1.4],[600,6.05],[604,3.3],[610,2.4],[616,1.7],[622,3.9],[628,2.9],[634,1.1],[640,3.7],[641,3.2],[642,3.5],[643,4.0],[644,2.6],[648,1.8],[652,3.0],[658,2.2],[664,4.0],[670,1.4],[676,2.8],[682,3.6],[688,1.2],[694,3.1],[700,2.3],
[706,3.9],[712,1.5],[718,4.3],[724,2.4],[730,3.2],[736,1.7],[742,3.8],[748,4.2],[749,3.0],[750,3.6],[751,2.7],[756,1.6],[760,6.7],[764,4.4],[770,2.5],[778,1.3],[784,4.7],[790,3.4],[796,2.1],[804,3.9],[810,2.8],[818,1.1],[826,3.4],[832,4.1],[840,2.2],[848,3.0],[856,1.5],[864,3.7],[872,2.6],[880,4.9],[888,3.2],[896,2.1],[904,1.5],[912,3.8],[920,2.7],[928,4.5],[936,1.7],[944,3.1],[952,2.4],[960,0.9],[968,3.5],[976,4.1],[984,2.2],[992,3.0],[1000,1.4],[1010,4.8],[1018,3.6],[1026,2.5],[1034,1.7],[1042,3.3],[1050,4.0],[1058,2.0],[1066,1.2],[1074,3.1],[1082,4.3],[1090,2.6],[1098,3.7],[1106,1.5],[1114,4.5],[1120,4.2],[1122,2.3],[1130,3.4],[1138,1.3],[1146,4.0],[1147,4.2],[1148,3.9],[1149,4.4],[1152,2.6],[1160,3.1],[1168,4.6],[1176,1.8],[1184,2.9],[1192,3.6],[1200,1.4],[1210,4.9],[1220,2.2],[1230,3.0],[1240,1.9],[1250,3.8],[1260,2.4],[1270,3.2],[1278,1.6]
];
const grayHCore = [
[3,1.6],[7,1.0],[11,1.9],[15,0.6],[19,1.4],[23,2.0],[27,0.7],[31,1.5],[35,1.1],[39,0.5],[43,1.8],[47,1.3],[51,0.8],[55,1.5],[59,1.9],[63,1.0],[67,1.6],[71,0.7],[75,1.3],[79,1.9],[83,1.1],[87,1.6],[91,0.8],[95,1.3],[99,1.6],[103,0.8],[107,1.2],[111,1.8],[113,1.0],[117,1.5],[121,0.9],[125,1.7],[129,1.3],[133,2.0],[137,1.6],[141,1.1],[145,1.7],[149,1.3],[153,1.0],[157,2.0],[161,1.3],
[164,1.8],[168,2.5],[172,1.2],[176,2.2],[180,1.5],[184,2.0],[188,1.2],[192,2.7],[196,1.8],[204,2.3],[208,1.4],[219,2.7],[224,1.5],[228,2.6],[232,1.9],[236,3.0],[244,2.3],[249,1.5],[256,2.6],[260,1.9],[264,3.2],[268,2.4],[272,1.7],[276,2.9],[280,1.9],[284,2.3],[288,1.2],[292,3.0],[296,2.2],[306,2.5],[310,1.6],[314,2.8],[318,2.2],[322,1.4],[326,3.0],[330,2.0],[338,2.8],[342,1.6],[346,3.0],[350,2.3],[354,3.3],[358,1.8],[362,2.7],[366,3.2],[370,2.3],[374,1.5],[378,2.8],[382,3.4],[386,2.2],[390,1.7],[394,3.0],[398,2.6],[402,3.6],[406,1.9],[414,2.9],[418,3.3],[422,2.0],[426,2.7],[430,3.6],[434,2.2],[438,3.0],[442,2.5],[446,3.4],[450,2.0],[456,3.0],[462,2.4],[468,3.6],[474,2.9],[480,3.3],[486,2.2],[492,3.0],[498,3.7],[504,2.4],[510,3.2],[516,2.7],[522,3.6],[528,2.0],[534,3.0],[540,3.5],[546,2.6],[552,3.2],[558,2.0],[564,3.5],[570,2.7],[576,3.8],[582,2.4],[588,3.1],[598,2.6],[606,3.5],[612,2.0],[618,3.0],[624,2.4],[630,3.6],[636,2.7],[646,3.3],[650,3.8],[654,2.5],[660,3.4],[668,2.8],[680,3.2],[692,2.6],[704,3.4]
];
const orangeH = [
[101.9,3.30],[49.7,2.74],[93.4,2.94],[114.5,2.97],[133.8,2.94],[128.8,2.79],[152.4,2.81],[160.8,2.50],[148.1,2.55],[139.7,2.45],[127.1,2.40],[118.7,2.50],[110.3,2.55],[97.6,2.50],[91.8,2.58],[85,2.45],[76.6,2.38],[69.9,2.32],[80.8,2.25],[93.4,2.30],[106,2.22],[118.7,2.20],[131.3,2.25],[143.9,2.30],[156.6,2.32],[162,2.25],[152.4,2.10],[139.7,2.10],[122.9,2.06],[110.3,2.10],[97.6,2.10],[85,2.10],[72.4,2.10],[59.8,2.10],[47.1,2.06],[34.5,2.01],[21.9,2.01],[9.3,2.10],[2.5,2.06],[13.5,1.91],[26.1,1.91],[38.7,1.86],[51.3,1.81],[64,1.91],[76.6,1.91],[89.2,1.86],[101.9,1.93],[114.5,1.91],[127.1,1.91],[148.1,1.91],[160.8,1.93],[7.6,1.76],[21.9,1.73],[34.5,1.66],[47.1,1.71],[59.8,1.73],[72.4,1.66],[85,1.71],[101.9,1.73],[30.3,1.56],[42.9,1.51],[68.2,1.56],[13.5,1.61],[26.1,1.36],[38.7,1.41],[76.6,1.51]
];

const grayI = [
[0.2,0.6],[0.4,1.0],[0.5,0.3],[0.7,1.4],[0.8,0.8],[1.0,2.8],[1.1,0.5],[1.3,1.1],[1.4,0.2],[1.6,0.9],[1.7,1.6],[1.9,0.4],[2.1,1.2],[2.3,0.7],[2.5,2.75],[2.6,1.0],[2.8,0.3],[3.0,1.5],[3.2,0.6],[3.4,1.9],[3.5,0.9],[3.7,0.2],[3.9,1.3],[4.1,0.5],[4.3,1.0],[4.5,1.7],[4.7,0.4],[4.9,0.8],[5.1,1.4],[5.3,2.0],[5.5,0.6],[5.7,1.1],[5.9,0.3],[6.1,0.9],[6.3,1.6],[6.5,0.5],[6.7,1.2],[6.9,0.8],[7.1,2.2],[7.3,0.4],[7.5,1.0],[7.7,1.5],[7.9,0.7],[8.1,1.1],[8.3,0.3],[8.5,1.8],[8.7,0.9],[8.9,1.3],[9.1,0.6],[9.3,2.1],[9.5,1.0],[9.7,0.4],[9.9,1.4],[10.1,0.8],[10.3,1.2],[10.5,1.9],[10.7,0.5],[10.9,1.0],[11.1,1.6],[11.3,0.7],[11.5,1.3],[11.7,0.3],[11.9,1.1],[12.1,3.2],[12.3,0.9],[12.5,1.5],[12.7,0.6],[12.9,2.0],[13.1,1.2],[13.3,0.4],[13.5,0.9],[13.7,1.7],[13.9,1.1],[14.1,2.3],[14.3,0.6],[14.5,1.4],[14.7,0.8],[14.9,1.9],[15.1,1.0],[15.3,0.4],[15.5,1.5],[15.7,2.4],[15.9,0.7],[16.1,1.2],[16.3,0.5],[16.5,4.2],[16.7,1.6],[16.9,0.9],[17.1,2.2],[17.3,1.3],[17.5,0.6],[17.7,1.8],[17.9,1.0],[18.1,2.6],[18.3,0.4],[18.5,1.4],[18.7,0.8],[18.9,2.0],[19.1,1.1],[19.3,0.5],[19.5,1.6],[19.7,2.3],[19.9,0.9],
[20.2,1.3],[20.4,0.7],[20.6,2.0],[20.8,1.0],[21.0,2.5],[21.2,0.4],[21.4,1.6],[21.6,0.9],[21.8,2.2],[22.0,1.2],[22.2,0.6],[22.4,1.8],[22.6,2.8],[22.8,1.0],[23.0,0.3],[23.2,1.5],[23.4,2.1],[23.6,0.8],[23.8,1.3],[24.0,0.5],[24.2,1.9],[24.4,1.1],[24.6,2.4],[24.8,0.7],[25.0,1.4],[25.2,2.9],[25.4,0.9],[25.6,1.7],[25.8,0.4],[26.0,3.55],[26.2,1.2],[26.4,0.6],[26.6,2.0],[26.8,0.3],[27.0,1.0],[27.2,1.6],[27.4,0.5],[27.6,2.3],[27.8,0.8],[28.0,0.2],[28.2,1.4],[28.4,0.6],[28.6,1.9],[28.8,0.4],[29.0,1.1],[29.2,2.6],[29.4,0.7],[29.5,3.7],[29.7,1.5],[29.9,0.3],[30.1,1.2],[30.3,2.0],[30.5,0.9],[30.7,1.6],[30.9,0.5],[31.1,1.3],[31.3,2.4],[31.5,1.0],[31.7,1.7],[31.9,0.6],[32.1,1.4],[32.3,2.1],[32.5,0.8],[32.7,1.5],[32.9,1.1],[33.1,2.7],[33.3,0.4],[33.5,1.8],[33.7,1.2],[33.9,0.7],[34.1,1.6],[34.3,2.2],[34.5,1.0],[34.7,1.4],[34.9,0.5],[35.1,1.7],[35.3,1.3],[35.5,2.0],[35.7,0.8],[35.9,1.5],[36.1,2.5],[36.3,1.1],[36.5,0.6],[36.7,1.6],[36.9,1.9],[37.1,0.9],[37.3,1.4],[37.5,2.3],[37.7,0.4],[37.9,1.2],[38.0,3.3],[38.2,1.7],[38.4,0.8],[38.6,2.1],[38.8,1.3],[39.0,0.6],[39.2,1.8],[39.4,2.6],[39.6,1.0],[39.8,1.5],[40.0,0.5],[40.2,2.0],[40.4,1.2],[40.6,0.7],[40.8,1.6],[41.0,2.3],[41.2,1.0],[41.4,0.4],[41.6,1.4],[41.8,2.0],[42.0,0.8],[42.2,1.7],[42.4,1.1],[42.6,2.4],[42.8,0.6],[43.0,1.3],[43.2,1.9],[43.4,0.9],[43.6,2.2],[43.8,1.5],[44.0,0.5],[44.2,1.2],[44.4,2.7],[44.6,1.0],[44.8,1.6],[45.0,0.7],[45.2,2.0],[45.4,1.3],[45.6,0.4],[45.8,1.8],[46.0,2.5],[46.2,1.1],[46.4,0.8],[46.6,1.5],[46.8,2.1],[47.0,0.6],[47.2,1.3],[47.4,1.9],[47.6,0.9],[47.8,2.3],[48.0,1.4],[48.2,0.5],[48.4,1.7],[48.6,1.0],[48.8,2.2],[49.0,1.2],[49.2,0.7],[49.4,1.8],[49.6,2.6],[49.8,1.0],[50.0,0.6],[50.2,1.5],[50.4,2.1],[50.6,0.8],[50.8,1.3],[51.0,0.2],[51.2,1.9],[51.4,2.9],[51.5,3.35],[51.7,1.1],[51.9,0.6],[52.1,1.6],[52.3,2.3]
];
const grayICore = [
[0.3,1.2],[0.9,0.6],[1.5,1.3],[2.0,0.9],[2.7,1.4],[3.3,0.8],[3.8,1.1],[4.4,0.7],[5.0,1.2],[5.6,0.9],[6.2,1.3],[6.8,0.6],[7.4,1.3],[8.0,0.9],[8.6,1.2],[9.2,0.8],[9.8,1.1],[10.4,0.6],[11.0,1.3],[11.6,0.9],[12.2,1.2],[12.8,0.8],[13.4,1.3],[14.0,0.7],[14.6,1.1],[15.2,1.3],[15.8,0.9],[16.4,1.4],[17.0,0.7],[17.6,1.2],[18.2,0.9],[18.8,1.5],[19.4,1.2],
[20.1,1.6],[20.5,0.9],[20.9,1.5],[21.3,2.0],[21.7,1.2],[22.1,0.7],[22.5,1.4],[22.9,1.8],[23.3,1.1],[23.7,0.6],[24.1,1.4],[24.5,1.7],[24.9,1.1],[25.3,0.6],[25.7,1.3],[26.1,0.8],[26.5,1.5],[26.9,0.5],[27.3,1.1],[27.7,0.4],[28.1,0.8],[28.5,1.2],[28.9,0.6],[29.3,1.4],[29.8,0.5],[30.2,1.6],[30.6,1.3],[31.0,0.9],[31.4,1.7],[31.8,1.4],[32.2,1.0],[32.6,1.6],[33.0,1.3],[33.4,1.9],[33.8,1.5],[34.2,1.1],[34.6,1.7],[35.0,1.5],[35.4,1.2],[35.8,1.8],[36.2,1.6],[36.6,1.3],[37.0,1.7],[37.4,1.5],[37.8,1.9],[38.3,1.4],[38.7,1.6],[39.1,1.2],[39.5,1.8],[39.9,1.3],[40.3,1.6],[40.7,1.0],[41.1,1.7],[41.5,1.2],[41.9,1.5],[42.3,0.9],[42.7,1.4],[43.1,1.7],[43.5,1.1],[43.9,1.6],[44.3,0.8],[44.7,1.3],[45.1,1.7],[45.5,1.0],[45.9,1.4],[46.3,1.9],[46.7,1.2],[47.1,0.9],[47.5,1.6],[47.9,1.1],[48.3,1.3],[48.7,0.8],[49.1,1.5],[49.5,1.0],[49.9,1.7],[50.3,1.1],[50.7,1.5],[51.1,0.9],[51.6,1.4],[52.0,1.0]
];
const orangeI = [
[0.62,1.53],[0.89,1.28],[1.23,1.38],[1.37,1.60],[1.58,1.28],[1.71,1.16],[1.92,1.11],[2.06,1.38],[2.33,1.31],[2.60,1.58],[2.67,1.38],[2.95,1.41],[3.08,1.31],[3.19,1.01],[3.53,0.98],[3.70,0.94],[3.97,1.31],[4.21,1.04],[4.9,1.29],[5.07,1.21],[5.41,1.21],[5.76,1.31],[6.44,1.31],[6.78,1.21],[7.06,1.21],[7.4,1.41],[7.54,1.55],[7.4,1.31],[7.64,1.65],[8.33,1.31],[8.84,1.26],[9.46,1.24],[9.52,1.36],[10.9,1.34],[11.4,1.29],[12.1,1.43],[12.3,1.47],[12.95,1.43],[13.3,1.95],[13.5,1.85],[13.6,1.60],[13.8,1.55],[14.3,1.45],[14.5,1.72],[14.7,1.50],[15.1,1.63],[15.3,1.67],[15.7,1.63],[15.9,1.80],[16.2,1.60],[16.4,1.80],[16.7,1.80],[17.1,1.80],[17.4,1.78],[17.7,1.80],[17.9,1.70],[18.3,1.78],[18.6,1.50],[19.1,1.68],[19.4,1.50],[19.8,1.78],[20.1,1.72]
];

const grayJ = [
[3,0.6],[5,1.1],[7,0.3],[9,1.5],[11,0.9],[13,2.1],[15,0.7],[17,1.3],[19,0.4],[20,2.9],[21,1.8],[23,1.0],[25,2.4],[27,0.5],[29,1.4],[30,1.7],[31,0.9],[33,2.0],[35,1.2],[37,0.3],[39,1.6],[40,2.4],[41,2.6],[43,0.8],[45,1.9],[47,1.3],[49,2.3],[50,0.2],[51,0.6],[53,1.7],[55,1.1],[57,2.9],[59,1.5],[60,2.2],[61,0.4],[63,2.0],[65,1.2],[67,2.5],[69,0.8],[70,1.6],[71,1.8],[73,3.5],[75,1.4],[77,2.2],[79,0.2],[80,2.0],[81,1.6],[83,2.7],[85,1.0],[87,1.9],[89,1.3],[90,0.4],[91,2.4],[93,0.7],[95,1.5],[97,2.1],[99,1.1],[100,2.5],[101,2.8],[103,1.7],[105,0.5],[107,2.3],[109,1.4],[110,0.9],[111,1.9],[113,3.1],
[116,2.6],[119,1.5],[122,3.3],[125,2.1],[128,0.9],[131,3.8],[134,1.9],[137,2.8],[140,1.2],[143,3.5],[146,2.4],[149,0.7],[152,3.0],[155,1.7],[158,2.5],[161,3.7],[164,1.4],[167,2.2],[170,0.6],[173,3.2],[176,1.9],[179,2.7],[182,4.1],[185,1.3],[188,2.4],[190,0.7],[191,4.7],[194,1.8],[197,3.0],[200,2.1],[203,1.0],[206,3.6],[209,2.5],[212,1.5],[215,4.2],[218,2.9],[221,0.9],[224,2.3],[227,3.3],[230,1.7],[233,2.6],[235,5.1],[236,4.0],[239,2.0],[242,1.3],[245,3.0],[248,2.4],[251,1.1],[254,3.8],[256,2.2],[257,1.8],[258,2.6],[260,1.5],[260,0.8],[263,3.1],[266,0.9],[269,2.4],[272,4.3],[275,1.6],[278,2.8],[281,1.3],[284,3.4],[287,2.0],[290,0.4],[293,2.7],[296,3.9],[299,1.8],[302,5.3],[305,2.4],[308,1.2],[311,3.1],[314,2.0],[317,4.0],[320,1.5],[323,2.8],[326,3.6],[329,1.0],[332,2.3],[335,3.0],[338,1.7],[340,0.9],[341,2.6],[344,4.3],[347,1.4],[350,3.2],[353,2.2],[356,4.6],[359,1.2],[362,2.8],[366,3.7],[370,1.9],[374,2.5],[378,3.3],[382,1.1],[386,2.4],[390,3.9],[394,1.6],[398,2.9],
[403,2.5],[408,5.0],[412,1.4],[418,3.2],[424,2.1],[430,3.9],[436,1.2],[442,2.7],[448,4.2],[454,1.7],[460,3.4],[466,2.0],[472,1.1],[478,3.0],[484,3.6],[490,0.8],[496,2.3],[500,5.4],[506,3.1],[512,1.6],[518,2.5],[524,4.5],[530,3.4],[536,2.2],[542,1.1],[548,4.9],[554,3.1],[560,2.0],[566,4.3],[572,1.9],[578,2.7],[584,3.5],[590,1.6],[596,2.1],[602,3.6],[608,1.9],[614,2.6],[620,5.8],[626,1.1],[632,4.9],[634,4.1],[638,3.4],[644,2.2],[650,1.2],[656,3.5],[662,2.3],[668,3.0],[669,2.8],[670,3.2],[671,2.6],[674,1.9],[680,2.5],[686,0.8],[690,6.6],[692,3.9],[698,2.4],[704,3.0],[710,4.4],[716,6.6],[722,2.1],[728,3.3],[734,0.7],[736,5.95],[742,2.0],[748,3.8],[754,2.4],[760,1.5],[766,3.6],[772,2.7],[778,3.0],[784,1.7],[790,5.3],[796,2.9],[802,3.5],[808,2.1],[814,1.6],[820,6.65],[826,3.6],[832,2.4],[838,4.5],[844,0.5],[850,3.1],[856,2.4],[862,1.7],[868,4.0],[874,2.2]
];
const grayJCore = [
[4,1.4],[8,0.9],[12,1.7],[16,1.0],[18,1.6],[22,1.3],[24,0.8],[26,1.9],[28,1.2],[32,1.5],[34,0.8],[36,1.8],[38,1.1],[42,1.5],[44,2.1],[46,1.0],[48,1.7],[52,1.3],[54,2.2],[56,0.9],[58,1.8],[62,1.4],[64,2.3],[66,1.0],[68,1.9],[72,1.3],[74,2.4],[76,1.1],[78,1.8],[82,1.5],[84,2.3],[86,1.2],[88,2.6],[92,1.8],[94,1.1],[96,2.2],[98,1.6],[102,2.0],[104,1.2],[106,2.5],[108,1.8],[112,1.5],[114,2.2],
[118,2.2],[121,2.9],[124,1.8],[127,2.6],[130,1.4],[133,3.0],[136,2.2],[139,1.7],[142,2.6],[145,3.1],[148,1.9],[151,2.3],[154,1.2],[157,2.8],[160,2.1],[163,3.2],[166,1.7],[169,2.6],[172,1.4],[175,2.9],[178,2.2],[181,1.6],[184,3.3],[187,2.0],[193,2.6],[196,1.5],[199,2.9],[202,2.3],[205,1.8],[208,3.1],[211,2.2],[214,1.3],[217,2.6],[220,2.0],[223,3.4],[226,1.6],[229,2.4],[232,1.9],[238,2.8],[241,1.5],[244,2.2],[247,3.3],[250,1.8],[253,2.5],[259,2.0],[262,1.2],[265,2.7],[268,1.6],[271,3.1],[274,2.3],[277,1.4],[280,2.6],[283,1.9],[286,3.0],[289,2.3],[292,1.6],[295,2.5],[298,2.0],[304,3.1],[310,2.0],[316,2.6],[322,1.8],[328,3.0],[334,2.1],[346,2.6],[352,1.7],[358,2.4],[364,2.0],[376,2.7],[388,2.0]
];
const orangeJ = [
[15.9,1.42],[21.8,1.52],[27.7,1.62],[33.5,1.67],[24.7,1.37],[12.9,1.47],[36.5,1.86],[42.4,1.76],[45.3,1.62],[39.4,1.52],[57.1,2.50],[65.9,2.75],[71.8,2.70],[68.9,2.55],[77.7,2.65],[80.6,3.02],[83.6,2.45],[86.5,2.55],[89.5,2.70],[95.4,2.75],[98.3,2.50],[92.4,2.35],[101.2,2.40],[104.2,2.25],[95.4,2.25],[108.3,2.94],[104.2,2.84],[113,2.89],[107.1,2.99],[98.3,2.99],[100.1,2.65],[77.7,2.45],[71.8,2.35],[74.8,2.80],[92.4,2.84]
];

const grayEvents = [
  grayE.concat(grayECore), grayF.concat(grayFCore), grayG.concat(grayGCore),
  grayH.concat(grayHCore), grayI.concat(grayICore), grayJ.concat(grayJCore)
];
const orangeEvents = [orangeE, orangeF, orangeG, orangeH, orangeI, orangeJ];

// ---------- layout ----------
const frames = [
  { x0: 70,    x1: 581,  y0: 64,  y1: 402 },
  { x0: 627.5, x1: 1134, y0: 64,  y1: 402 },
  { x0: 70,    x1: 581,  y0: 534, y1: 873 },
  { x0: 627.5, x1: 1134, y0: 534, y1: 873 },
  { x0: 70,    x1: 581,  y0: 987, y1: 1326 },
  { x0: 627.5, x1: 1134, y0: 987, y1: 1326 }
];
const titlePos = [
  { x: 76, y: 39, w: 382 }, { x: 631, y: 39, w: 377 },
  { x: 73, y: 514, w: 384 }, { x: 631, y: 514, w: 386 },
  { x: 73, y: 964, w: 348 }, { x: 631, y: 964, w: 349 }
];
const notePos = [
  { x: 81, y: 107, w: 268 }, { x: 653, y: 107, w: 171 },
  { x: 78, y: 578, w: 251 }, { x: 636, y: 578, w: 260 },
  { x: 76, y: 1028, w: 260 }, { x: 636, y: 1030, w: 260 }
];

const svg = d3.select("#chart");
const ink = "#262626";

// text is laid out at its natural width, then stretched to the target width
function stretchTo(textSel, x, y, w, rotate) {
  const bw = textSel.node().getBBox().width;
  const s = bw > 0 ? w / bw : 1;
  textSel.attr("transform", `translate(${x},${y})` + (rotate ? ` rotate(${rotate})` : "") + ` scale(${s},1)`);
}

// radius of the diffusion front r = sqrt(4 pi D t), t in days, r in km
function front(D, tDay) { return Math.sqrt(4 * Math.PI * D * tDay * 86400) / 1000; }

frames.forEach((f, i) => {
  const x = d3.scaleLinear().domain([0, xMax[i]]).range([f.x0, f.x1]);
  const y = d3.scaleLinear().domain([0, 10]).range([f.y1, f.y0]);
  const g = svg.append("g");

  const clipId = "clip" + i;
  svg.append("defs").append("clipPath").attr("id", clipId)
    .append("rect").attr("x", f.x0).attr("y", f.y0).attr("width", f.x1 - f.x0).attr("height", f.y1 - f.y0);
  const plot = g.append("g").attr("clip-path", `url(#${clipId})`);

  // migration window
  plot.append("rect")
    .attr("x", x(0)).attr("y", f.y0)
    .attr("width", x(shadeEnd[i]) - x(0)).attr("height", f.y1 - f.y0)
    .attr("fill", "#fdf6e6");

  // background seismicity
  plot.append("g").selectAll("rect").data(grayEvents[i]).join("rect")
    .attr("x", d => x(d[0]) - 1.35).attr("y", d => y(d[1]) - 1.35)
    .attr("width", 2.7).attr("height", 2.7)
    .attr("fill", "#838383");

  // diffusion front with bounds
  if (diffusivity[i] !== null) {
    const ts = d3.range(0, 401).map(k => xMax[i] * Math.pow(k / 400, 2));
    const mk = D => d3.line().x(t => x(t)).y(t => y(front(D, t)))(ts);
    plot.append("path").attr("d", mk(diffusivityHigh[i])).attr("fill", "none")
      .attr("stroke", "#4a4a4a").attr("stroke-width", 1.1).attr("stroke-dasharray", "5,3");
    plot.append("path").attr("d", mk(diffusivityLow[i])).attr("fill", "none")
      .attr("stroke", "#4a4a4a").attr("stroke-width", 1.1).attr("stroke-dasharray", "5,3");
    plot.append("path").attr("d", mk(diffusivity[i])).attr("fill", "none")
      .attr("stroke", "#505050").attr("stroke-width", 2.3);
  }

  // events inside the migration window
  plot.append("g").selectAll("circle").data(orangeEvents[i]).join("circle")
    .attr("cx", d => x(d[0])).attr("cy", d => y(d[1])).attr("r", 3.6)
    .attr("fill", "#f4a01c").attr("stroke", "#7d5514").attr("stroke-width", 0.7);

  // frame
  g.append("rect").attr("x", f.x0).attr("y", f.y0)
    .attr("width", f.x1 - f.x0).attr("height", f.y1 - f.y0)
    .attr("fill", "none").attr("stroke", ink).attr("stroke-width", 1.6);

  // inward ticks on all four sides
  const xMinor = d3.range(0, xMax[i] + 1e-9, xMinorStep[i]).filter(v => !xMajorTicks[i].includes(v));
  const yMinor = d3.range(0, 10.0001, yMinorStep).filter(v => !yMajorTicks.includes(v));
  const axB = d3.axisBottom(x).tickValues(xMajorTicks[i]).tickSize(-8).tickPadding(11).tickFormat(d3.format("d"));
  const axBm = d3.axisBottom(x).tickValues(xMinor).tickSize(-4.5).tickFormat("");
  const axT = d3.axisTop(x).tickValues(xMajorTicks[i]).tickSize(-8).tickFormat("");
  const axTm = d3.axisTop(x).tickValues(xMinor).tickSize(-4.5).tickFormat("");
  const axL = d3.axisLeft(y).tickValues(yMajorTicks).tickSize(-8).tickPadding(14).tickFormat(d3.format("d"));
  const axLm = d3.axisLeft(y).tickValues(yMinor).tickSize(-4.5).tickFormat("");
  const axR = d3.axisRight(y).tickValues(yMajorTicks).tickSize(-8).tickFormat("");
  const axRm = d3.axisRight(y).tickValues(yMinor).tickSize(-4.5).tickFormat("");

  const place = (ax, tx, ty) => {
    const a = g.append("g").attr("transform", `translate(${tx},${ty})`).call(ax);
    a.select(".domain").remove();
    a.selectAll("line").attr("stroke", ink).attr("stroke-width", 1.4);
    a.selectAll("text").attr("font-size", 20).attr("fill", "#111")
      .attr("font-family", '"Liberation Sans", Arial, sans-serif');
    return a;
  };
  place(axB, 0, f.y1);
  place(axBm, 0, f.y1);
  place(axT, 0, f.y0);
  place(axTm, 0, f.y0);
  const la = place(axL, f.x0, 0);
  la.selectAll("text").attr("dy", "0.34em");
  place(axLm, f.x0, 0);
  place(axR, f.x1, 0);
  place(axRm, f.x1, 0);

  // title
  const tt = svg.append("text").attr("font-size", 31).attr("font-weight", "bold").text(panelTitles[i]);
  stretchTo(tt, titlePos[i].x, titlePos[i].y, titlePos[i].w);

  // annotation with superscripts
  const note = svg.append("text").attr("font-size", 28).style("white-space", "pre");
  let wasSup = false;
  annotations[i].forEach(([s, sup]) => {
    note.append("tspan")
      .attr("font-size", sup ? 17 : 28)
      .attr("dy", sup ? -11 : (wasSup ? 11 : 0))
      .text(s);
    wasSup = !!sup;
  });
  stretchTo(note, notePos[i].x, notePos[i].y, notePos[i].w);
});

// axis titles (first panel only)
const yl = svg.append("text").attr("font-size", 22).attr("text-anchor", "middle").text(yLabel);
stretchTo(yl, 34, 232, 142, -90);
const xl = svg.append("text").attr("font-size", 22).attr("text-anchor", "middle").text(xLabel);
stretchTo(xl, 326, 452, 110);
</script>
</body>
</html>
